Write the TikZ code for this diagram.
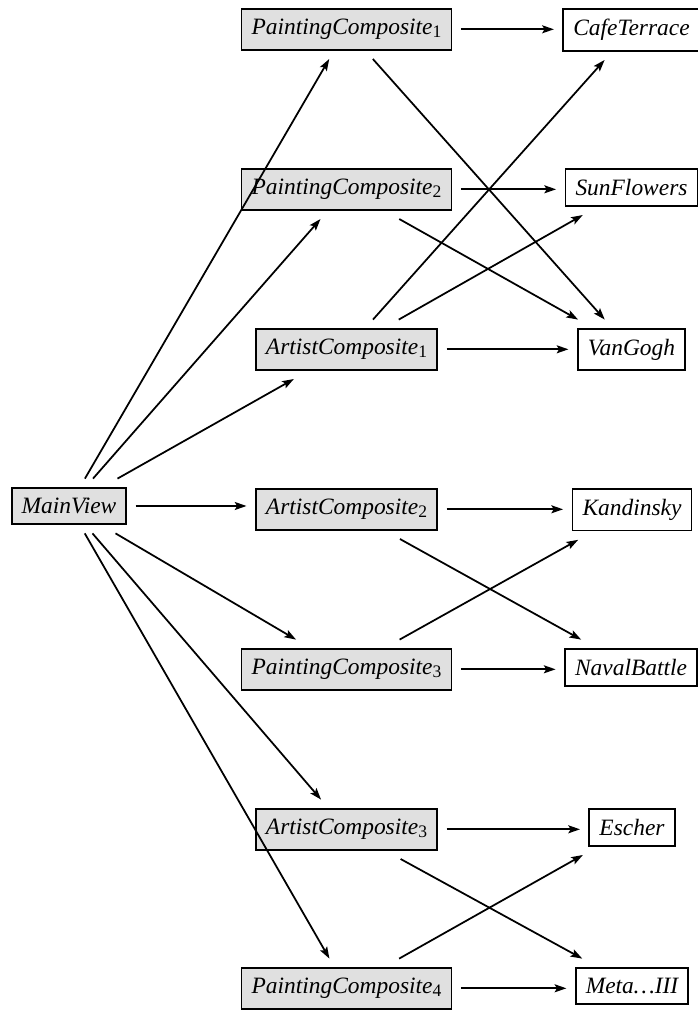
\documentclass[tikz,border=0pt]{standalone}
\usepackage{fontspec}
\setmainfont{Liberation Serif}
\usetikzlibrary{arrows.meta}

\newcommand{\sub}[1]{\raisebox{-0.3ex}{\fontsize{7.5}{8}\selectfont\upshape #1}}

\begin{document}
\begin{tikzpicture}[x=0.015cm, y=-0.015cm,
    every node/.style={anchor=north, draw, line width=0.8pt, inner sep=4.3pt, outer sep=4pt, font=\itshape},
    composite/.style={fill=black!12},
    leaf/.style={fill=white},
    edge/.style={line width=0.75pt, -{Stealth[length=5pt,width=3.4pt,inset=1pt]}}]
    \useasboundingbox (0,0) rectangle (698,1011);
    % left and middle
    \node[composite] (mainview) at (69,478.6) {MainView};
    \node[composite] (pc1) at (346.5,-0.4) {PaintingComposite\sub{1}};
    \node[composite] (pc2) at (346.5,159.6) {PaintingComposite\sub{2}};
    \node[composite] (ac1) at (346.5,319.6) {ArtistComposite\sub{1}};
    \node[composite] (ac2) at (346.5,479.6) {ArtistComposite\sub{2}};
    \node[composite] (pc3) at (346.5,639.6) {PaintingComposite\sub{3}};
    \node[composite] (ac3) at (346.5,799.6) {ArtistComposite\sub{3}};
    \node[composite] (pc4) at (346.5,958.6) {PaintingComposite\sub{4}};
    % right
    \node[leaf] (cafe) at (631.5,-0.4) {CafeTerrace};
    \node[leaf] (sun) at (631.5,159.6) {SunFlowers};
    \node[leaf] (vangogh) at (631.5,319.6) {VanGogh};
    \node[leaf] (kandinsky) at (632,479.6) {Kandinsky};
    \node[leaf] (naval) at (631,639.6) {NavalBattle};
    \node[leaf] (escher) at (632,799.6) {Escher};
    \node[leaf] (meta) at (632,958.6) {Meta\dots III};

    \draw[edge] (mainview) -- (pc1);
    \draw[edge] (mainview) -- (pc2);
    \draw[edge] (mainview) -- (ac1);
    \draw[edge] (mainview) -- (mainview -| ac2.west);
    \draw[edge] (mainview) -- (pc3);
    \draw[edge] (mainview) -- (ac3);
    \draw[edge] (mainview) -- (pc4);

    \draw[edge] (pc1) -- (pc1 -| cafe.west);
    \draw[edge] (pc1) -- (vangogh);
    \draw[edge] (pc2) -- (pc2 -| sun.west);
    \draw[edge] (pc2) -- (vangogh);
    \draw[edge] (ac1) -- (ac1 -| vangogh.west);
    \draw[edge] (ac1) -- (cafe);
    \draw[edge] (ac1) -- (sun);
    \draw[edge] (ac2) -- (ac2 -| kandinsky.west);
    \draw[edge] (ac2) -- (naval);
    \draw[edge] (pc3) -- (pc3 -| naval.west);
    \draw[edge] (pc3) -- (kandinsky);
    \draw[edge] (ac3) -- (ac3 -| escher.west);
    \draw[edge] (ac3) -- (meta);
    \draw[edge] (pc4) -- (pc4 -| meta.west);
    \draw[edge] (pc4) -- (escher);
\end{tikzpicture}
\end{document}
